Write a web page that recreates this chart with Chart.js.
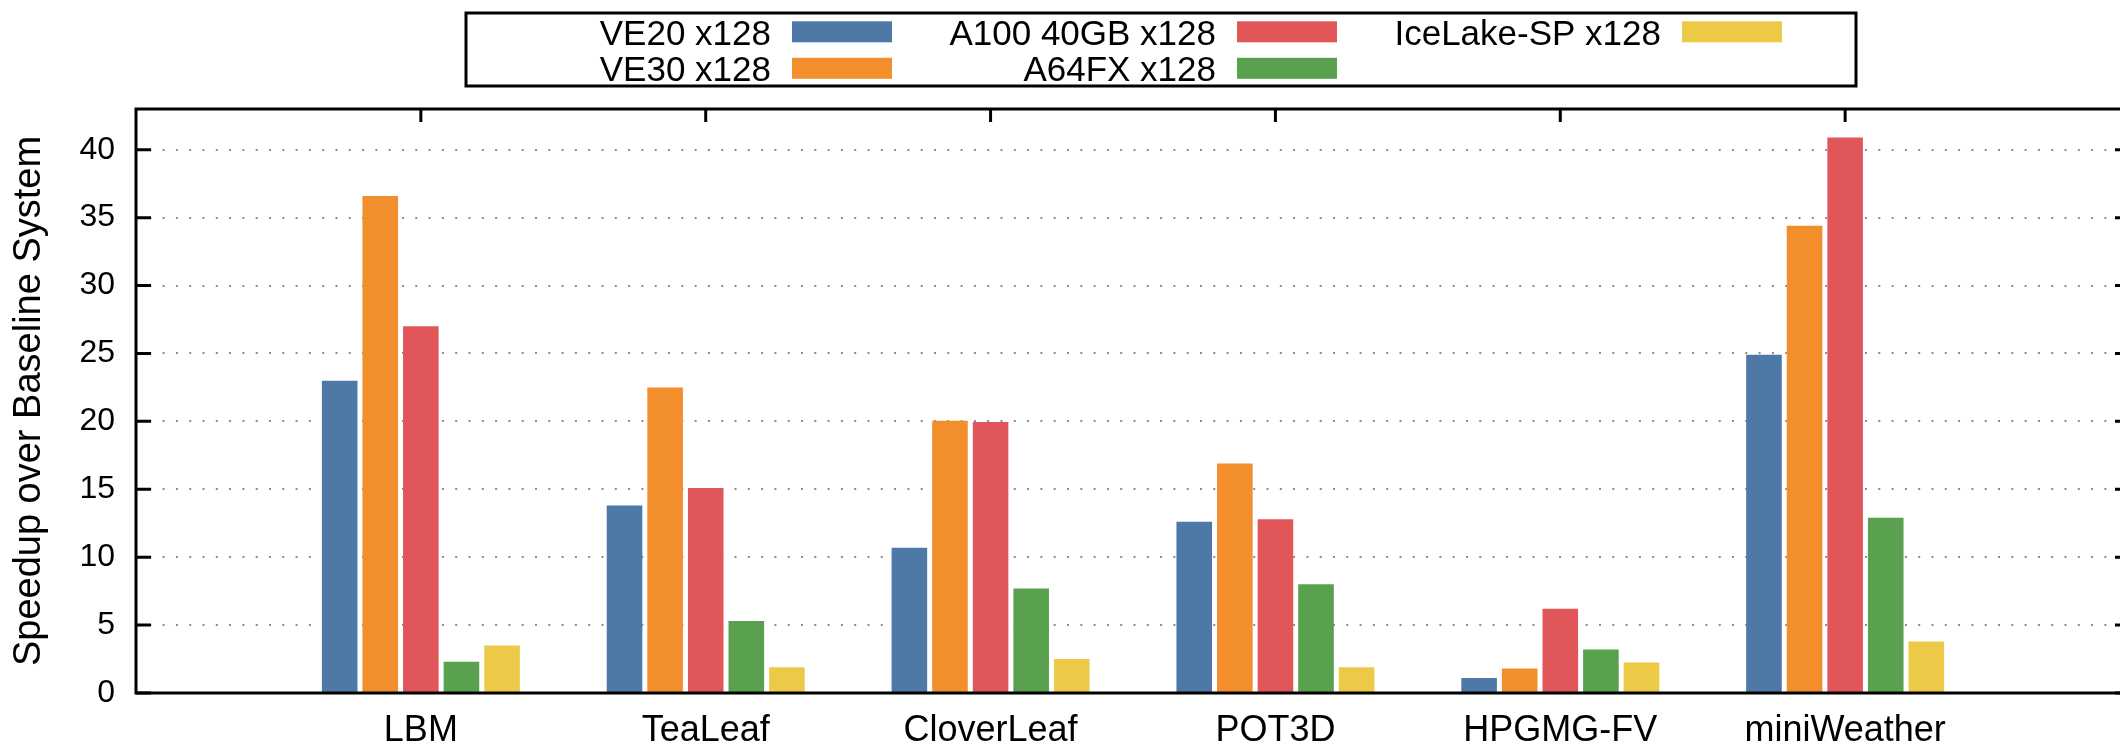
<!DOCTYPE html>
<html>
<head>
<meta charset="utf-8">
<script src="https://cdn.jsdelivr.net/npm/chart.js@4/dist/chart.umd.min.js"></script>
<style>
html,body{margin:0;padding:0;background:#fff;overflow:hidden;width:2120px;height:747px;}
#wrap{width:2140px;height:747px;position:relative;}
canvas{display:block;}
</style>
</head>
<body>
<div id="wrap"><canvas id="c" width="2140" height="747"></canvas></div>
<script>
// ---- data ----
const categories = ['LBM', 'TeaLeaf', 'CloverLeaf', 'POT3D', 'HPGMG-FV', 'miniWeather'];
const seriesNames = ['VE20 x128', 'VE30 x128', 'A100 40GB x128', 'A64FX x128', 'IceLake-SP x128'];
const ve20    = [23.0, 13.8, 10.7, 12.6, 1.1, 24.9];
const ve30    = [36.6, 22.5, 20.05, 16.9, 1.8, 34.4];
const a100    = [27.0, 15.1, 19.95, 12.8, 6.2, 40.9];
const a64fx   = [2.3, 5.3, 7.7, 8.0, 3.2, 12.9];
const icelake = [3.5, 1.9, 2.5, 1.9, 2.25, 3.8];
const yTicks  = [0, 5, 10, 15, 20, 25, 30, 35, 40];
const yTitle  = 'Speedup over Baseline System';

const colors = ['#4e79a7', '#f28e2b', '#e15759', '#59a14f', '#edc948'];
const seriesValues = [ve20, ve30, a100, a64fx, icelake];
const FONT = '"Liberation Sans", Arial, Helvetica, sans-serif';
Chart.defaults.font.family = FONT;
Chart.defaults.color = '#000';

const framePlugin = {
  id: 'frame',
  beforeDatasetsDraw(chart) {
    const {ctx, chartArea: a, scales: {x}} = chart;
    ctx.save();
    ctx.strokeStyle = '#000'; ctx.lineWidth = 3;
    categories.forEach((c, i) => {
      const px = x.getPixelForValue(i);
      ctx.beginPath(); ctx.moveTo(px, a.bottom); ctx.lineTo(px, a.bottom - 13); ctx.stroke();
    });
    ctx.restore();
  },
  afterDatasetsDraw(chart) {
    const {ctx, chartArea: a, scales: {x, y}} = chart;
    ctx.save();
    ctx.strokeStyle = '#000'; ctx.lineWidth = 3; ctx.lineCap = 'square';
    ctx.beginPath();
    ctx.moveTo(a.left, a.top); ctx.lineTo(a.right, a.top);
    ctx.moveTo(a.left, a.bottom); ctx.lineTo(a.right, a.bottom);
    ctx.moveTo(a.left, a.top); ctx.lineTo(a.left, a.bottom);
    ctx.moveTo(a.right, a.top); ctx.lineTo(a.right, a.bottom);
    ctx.stroke();
    ctx.lineCap = 'butt';
    categories.forEach((c, i) => {
      const px = x.getPixelForValue(i);
      ctx.beginPath(); ctx.moveTo(px, a.top); ctx.lineTo(px, a.top + 13); ctx.stroke();
    });
    yTicks.forEach(v => {
      const py = y.getPixelForValue(v);
      ctx.beginPath();
      ctx.moveTo(a.left, py); ctx.lineTo(a.left + 15, py);
      ctx.moveTo(a.right, py); ctx.lineTo(a.right - 15, py);
      ctx.stroke();
    });
    ctx.restore();
  }
};

const legendPlugin = {
  id: 'keybox',
  afterDraw(chart, args, o) {
    const ctx = chart.ctx;
    ctx.save();
    ctx.strokeStyle = '#000'; ctx.lineWidth = 3;
    ctx.strokeRect(o.boxLeft, o.boxTop, o.boxWidth, o.boxHeight);
    ctx.font = o.fontSize + 'px ' + FONT;
    ctx.textAlign = 'right'; ctx.textBaseline = 'alphabetic';
    chart.data.datasets.forEach((ds, i) => {
      const col = Math.floor(i / 2), row = i % 2;
      const tx = o.textRight + o.colPitch * col;
      ctx.fillStyle = '#000';
      ctx.fillText(ds.label, tx, o.baseline + o.rowPitch * row);
      ctx.fillStyle = ds.backgroundColor;
      ctx.fillRect(tx + o.gap, o.swatchTop + o.rowPitch * row, o.swatchW, o.swatchH);
    });
    ctx.restore();
  }
};

new Chart(document.getElementById('c'), {
  type: 'bar',
  data: {
    datasets: seriesNames.map((name, k) => ({
      label: name,
      data: seriesValues[k].map((v, i) => ({x: i, y: v})),
      backgroundColor: colors[k],
      borderWidth: 0
    }))
  },
  options: {
    responsive: false,
    animation: false,
    layout: {padding: {top: 109, right: 10, left: 0, bottom: 0}},
    datasets: {bar: {categoryPercentage: 0.7125, barPercentage: 0.877, grouped: true}},
    plugins: {
      legend: {display: false},
      tooltip: {enabled: false},
      keybox: {
        boxLeft: 466, boxTop: 13, boxWidth: 1390, boxHeight: 73,
        fontSize: 35, textRight: 771, colPitch: 445, rowPitch: 36.5,
        baseline: 44.5, gap: 21, swatchTop: 21.3, swatchW: 100, swatchH: 21
      }
    },
    scales: {
      x: {
        type: 'linear', min: -1, max: 6, offset: false,
        grid: {display: false, drawTicks: false, offset: false},
        border: {display: false},
        afterBuildTicks: s => { s.ticks = categories.map((c, i) => ({value: i})); },
        ticks: {
          autoSkip: false, maxRotation: 0, minRotation: 0, padding: 16,
          color: '#000', font: {size: 36},
          callback: v => (categories[v] !== undefined ? categories[v] : '')
        },
        afterFit: s => { s.height = 54; }
      },
      y: {
        min: 0, max: 43,
        afterBuildTicks: s => { s.ticks = yTicks.map(v => ({value: v})); },
        grid: {color: '#8c8c8c', lineWidth: 2, drawTicks: false},
        border: {display: false, dash: [2, 11.3]},
        ticks: {padding: 21, color: '#000', font: {size: 32}},
        title: {display: true, text: yTitle, color: '#000', font: {size: 38}, padding: {top: 7, bottom: 0}},
        afterFit: s => { s.width = 136; }
      }
    }
  },
  plugins: [framePlugin, legendPlugin]
});
</script>
</body>
</html>
